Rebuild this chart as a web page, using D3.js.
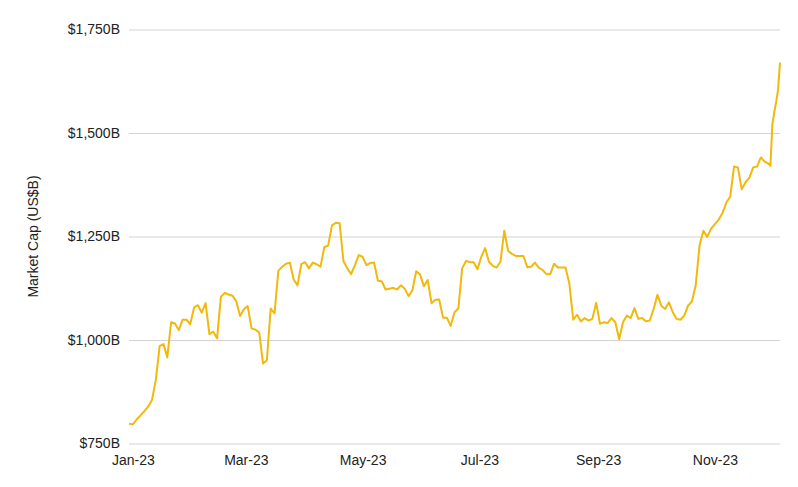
<!DOCTYPE html>
<html>
<head>
<meta charset="utf-8">
<script src="https://cdn.jsdelivr.net/npm/d3@7"></script>
<style>
  html, body { margin: 0; padding: 0; background: #fff; }
  svg text { font-family: "Liberation Sans", Arial, sans-serif; }
</style>
</head>
<body>
<svg id="chart" width="798" height="487"></svg>
<script>
// ---- data (US$ billions) ----
const startDate = "2022-12-30";   // first observation
const stepDays = 2;               // main series sampled every two days
const mainValues = [
  798, 796, 808, 818, 828, 839, 855, 903, 985, 990,
  958, 1043, 1040, 1024, 1049, 1049, 1038, 1079, 1084, 1066,
  1089, 1014, 1020, 1004, 1104, 1114, 1110, 1107, 1094, 1058,
  1074, 1082, 1028, 1025, 1018, 943, 951, 1076, 1064, 1167,
  1177, 1184, 1187, 1146, 1132, 1183, 1188, 1173, 1187, 1183,
  1177, 1224, 1228, 1277, 1283, 1282, 1191, 1173, 1159, 1181,
  1205, 1201, 1181, 1186, 1187, 1143, 1142, 1122, 1124, 1126,
  1122, 1132, 1124, 1106, 1120, 1166, 1158, 1130, 1145, 1089,
  1097, 1098, 1054, 1054, 1034, 1067, 1076, 1173, 1191, 1188,
  1188, 1171, 1201, 1222, 1189, 1179, 1175, 1189, 1264, 1215,
  1208, 1203, 1203, 1203, 1176, 1177, 1187, 1175, 1169, 1159,
  1159, 1184, 1175, 1175, 1175, 1136, 1049, 1061, 1045, 1053,
  1047, 1051, 1090, 1039, 1043, 1041, 1053, 1043, 1002, 1043,
  1059, 1053, 1077, 1051, 1053, 1045, 1047, 1075, 1109, 1083,
  1075, 1091, 1067, 1051, 1049, 1059, 1083, 1093, 1133, 1229,
  1264, 1249, 1269, 1280, 1291, 1307, 1332, 1346, 1419, 1417,
  1364, 1381, 1392, 1417, 1419, 1441, 1431, 1426
];
// final days are daily observations
const tailDates = ["2023-11-30", "2023-12-01", "2023-12-02", "2023-12-03", "2023-12-04", "2023-12-05"];
const tailValues = [1421, 1520, 1550, 1575, 1605, 1670];

const yTicks = [750, 1000, 1250, 1500, 1750];
const yTitle = "Market Cap (US$B)";
const domainEnd = "2023-12-05";

// ---- build series ----
const parse = d3.utcParse("%Y-%m-%d");
const t0 = parse(startDate);
const series = mainValues.map((v, i) => ({ date: d3.utcDay.offset(t0, i * stepDays), value: v }))
  .concat(tailDates.map((d, i) => ({ date: parse(d), value: tailValues[i] })));

// ---- layout ----
const svg = d3.select("#chart");
const plotL = 129, plotR = 780, plotT = 29.5, plotB = 443.5;

const x = d3.scaleUtc().domain([t0, parse(domainEnd)]).range([plotL, plotR]);
const y = d3.scaleLinear().domain([750, 1750]).range([plotB, plotT]);

// gridlines + y labels
const yAxis = d3.axisLeft(y)
  .tickValues(yTicks)
  .tickSize(-(plotR - plotL))
  .tickPadding(9)
  .tickFormat(d => d3.format("$,")(d) + "B");

const gy = svg.append("g").attr("transform", `translate(${plotL},0)`).call(yAxis);
gy.select(".domain").remove();
gy.selectAll(".tick line").attr("stroke", "#d3d3d3").attr("stroke-width", 1);
gy.selectAll(".tick text").attr("fill", "#222").attr("font-size", 14);

// x axis labels
const xAxis = d3.axisBottom(x)
  .ticks(d3.utcMonth.every(2))
  .tickSize(0)
  .tickPadding(12)
  .tickFormat(d3.utcFormat("%b-%y"));
const gx = svg.append("g").attr("transform", `translate(0,${plotB})`).call(xAxis);
gx.select(".domain").remove();
gx.selectAll(".tick text").attr("fill", "#222").attr("font-size", 14);

// y title
svg.append("text")
  .attr("transform", `translate(38,${(plotT + plotB) / 2}) rotate(-90)`)
  .attr("text-anchor", "middle")
  .attr("font-size", 14)
  .attr("fill", "#222")
  .text(yTitle);

// line
const line = d3.line().x(d => x(d.date)).y(d => y(d.value));
svg.append("path")
  .datum(series)
  .attr("fill", "none")
  .attr("stroke", "#F0B90B")
  .attr("stroke-width", 2)
  .attr("stroke-linejoin", "round")
  .attr("d", line);
</script>
</body>
</html>
